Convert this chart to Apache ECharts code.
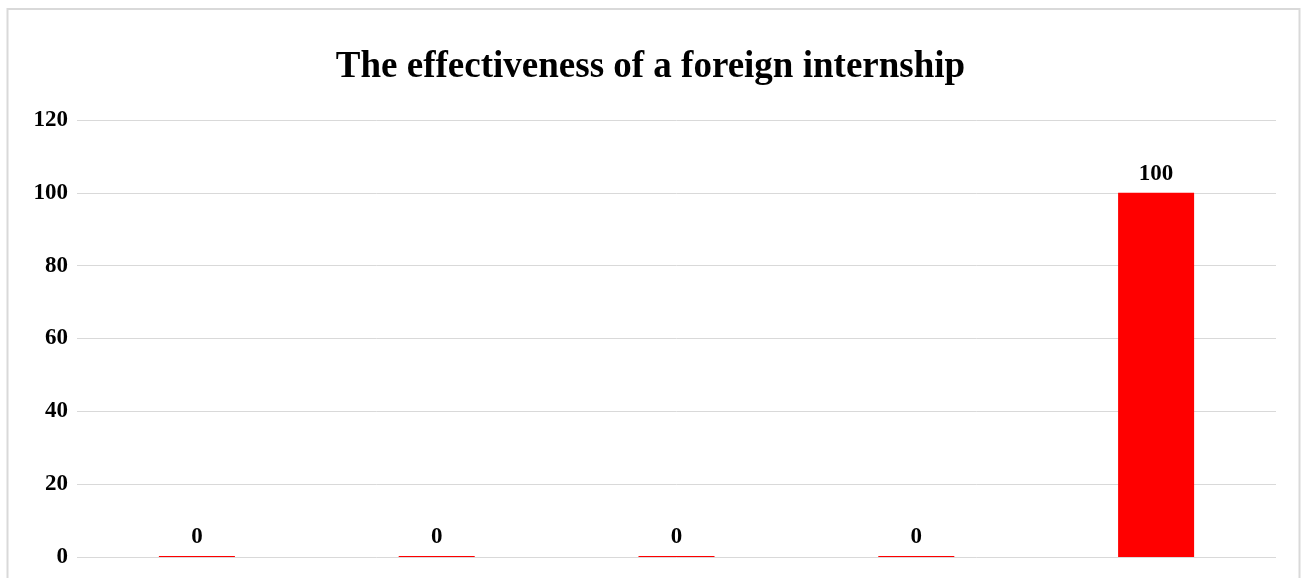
<!DOCTYPE html>
<html>
<head>
<meta charset="utf-8">
<script src="https://cdn.jsdelivr.net/npm/echarts@6/dist/echarts.min.js"></script>
<style>
html,body{margin:0;padding:0;background:#fff;}
#chart{width:1301px;height:578px;}
</style>
</head>
<body>
<div id="chart"></div>
<script>
const titleText = "The effectiveness of a foreign internship";
const categories = ["1", "2", "3", "4", "5"];
const values = [0, 0, 0, 0, 100];
const yTicks = { min: 0, max: 120, interval: 20 };

const chart = echarts.init(document.getElementById('chart'), null, { renderer: 'canvas' });
const serif = '"Liberation Serif", "Times New Roman", serif';
chart.setOption({
  animation: false,
  backgroundColor: '#ffffff',
  title: {
    text: titleText,
    left: 'center',
    top: 44,
    textStyle: { fontFamily: serif, fontWeight: 'bold', fontSize: 37, color: '#000' }
  },
  graphic: [{
    type: 'rect',
    shape: { x: 7.5, y: 9, width: 1292, height: 600 },
    style: { fill: 'none', stroke: '#d9d9d9', lineWidth: 2 },
    silent: true
  }],
  grid: { left: 77, right: 25, top: 120, bottom: 21, containLabel: false },
  xAxis: {
    type: 'category',
    data: categories,
    axisLine: { show: false },
    axisTick: { show: false },
    axisLabel: { show: false }
  },
  yAxis: {
    type: 'value',
    min: yTicks.min, max: yTicks.max, interval: yTicks.interval,
    axisLine: { show: false },
    axisTick: { show: false },
    splitLine: { lineStyle: { color: '#d9d9d9', width: 1 } },
    axisLabel: { fontFamily: serif, fontWeight: 'bold', fontSize: 23, color: '#000', margin: 9 }
  },
  series: [{
    type: 'bar',
    data: values,
    barWidth: '31.7%',
    barMinHeight: 1,
    itemStyle: { color: '#ff0000' },
    label: {
      show: true,
      position: 'top',
      distance: 7,
      fontFamily: serif, fontWeight: 'bold', fontSize: 23, color: '#000'
    }
  }]
});
</script>
</body>
</html>
